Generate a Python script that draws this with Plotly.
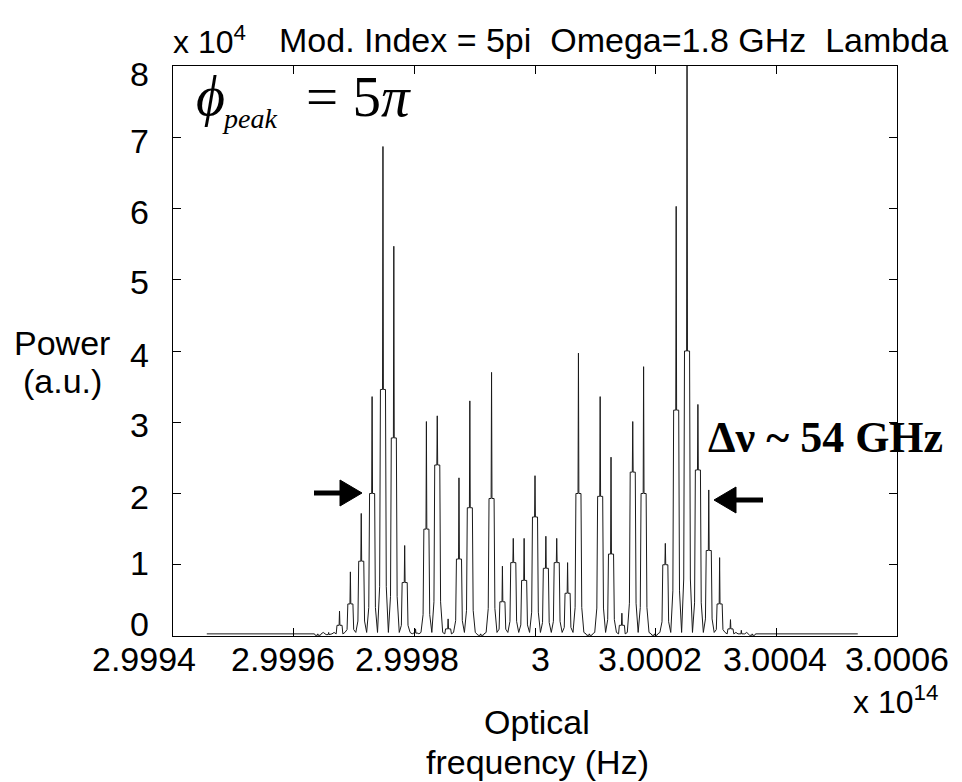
import plotly.graph_objects as go

# ---------------- data ----------------
CARRIER_HZ = 3.0e14          # centre optical frequency
SPACING_GHZ = 1.8            # modulation frequency (line spacing)
ORDERS = list(range(-20, 21))
# peak power of each spectral line (units of 1e4, a.u.)
PEAK_POWER = [0.03, 0.05, 0.35, 0.90, 1.72, 3.36, 6.87, 5.47, 1.27, 0.10,
              3.01, 3.09, 0.24, 2.22, 3.30, 0.03, 3.70, 0.98, 1.37, 1.37,
              2.25, 1.40, 1.37, 1.03, 3.97, 0.03, 3.36, 2.51, 0.32, 3.01,
              3.78, 0.03, 1.30, 6.03, 8.60, 3.25, 2.05, 1.10, 0.23, 0.08,
              0.03]
# power of the broad base ("shoulder") of each line (units of 1e4)
SHOULDER_POWER = [0.01, 0.02, 0.15, 0.45, 1.05, 2.00, 3.46, 2.78, 0.75, 0.04,
                  1.50, 2.40, 0.10, 1.08, 1.80, 0.01, 1.93, 0.48, 1.03, 0.78,
                  1.67, 0.95, 1.03, 0.60, 2.00, 0.01, 1.96, 1.15, 0.15, 2.30,
                  2.00, 0.01, 1.00, 3.17, 4.00, 2.33, 1.20, 0.45, 0.10, 0.03,
                  0.01]
VALLEY_POWER = 0.05          # floor between neighbouring lines
BASELINE_POWER = 0.03        # floor outside the comb
DATA_START_GHZ = -54.4       # span of the computed spectrum
DATA_END_GHZ = 53.5
# sampled line profile: offset from line centre (GHz) and which level it takes
PROFILE_OFFSET_GHZ = [-0.90, -0.55, -0.42, -0.07, 0.0, 0.07, 0.42, 0.55]
PROFILE_LEVEL = ["valley", "foot", "shoulder", "shoulder", "peak",
                 "shoulder", "shoulder", "foot"]
FOOT_FRACTION = 0.2

X_TICKS = [2.9994, 2.9996, 2.9998, 3.0, 3.0002, 3.0004, 3.0006]
X_TICK_TEXT = ["2.9994", "2.9996", "2.9998", "3", "3.0002", "3.0004", "3.0006"]
Y_TICKS = [0, 1, 2, 3, 4, 5, 6, 7, 8]
Y_TICK_TEXT = ["0", "1", "2", "3", "4", "5", "6", "7", "8"]

# ---------------- build the spectrum trace ----------------
def to_axis(off_ghz):
    return (CARRIER_HZ + off_ghz * 1e9) / 1e14

xs = [to_axis(DATA_START_GHZ)]
ys = [BASELINE_POWER]
for i, (n, pk, sh) in enumerate(zip(ORDERS, PEAK_POWER, SHOULDER_POWER)):
    c = n * SPACING_GHZ
    for off, lev in zip(PROFILE_OFFSET_GHZ, PROFILE_LEVEL):
        if lev == "valley":
            v = BASELINE_POWER if i == 0 else VALLEY_POWER
        elif lev == "foot":
            v = max(sh * FOOT_FRACTION, BASELINE_POWER)
        elif lev == "shoulder":
            v = sh
        else:
            v = pk
        xs.append(to_axis(c + off))
        ys.append(v)
xs.append(to_axis(ORDERS[-1] * SPACING_GHZ + 0.9))
ys.append(BASELINE_POWER)
xs.append(to_axis(DATA_END_GHZ))
ys.append(BASELINE_POWER)

fig = go.Figure()
fig.add_trace(go.Scatter(x=xs, y=ys, mode="lines",
                         line=dict(color="#1a1a1a", width=1),
                         hoverinfo="skip", showlegend=False))

# ---------------- layout ----------------
W, H = 962, 782
L, R, T, B = 173, 65, 66, 146
PW, PH = W - L - R, H - T - B

def P(px, py):
    return (px - L) / PW, (H - B - py) / PH

SANS = "Liberation Sans, Arial, sans-serif"
SERIF = "Liberation Serif, Times New Roman, DejaVu Serif, serif"

axis_common = dict(showgrid=False, zeroline=False, ticks="inside", ticklen=8,
                   tickcolor="black", linecolor="black", linewidth=1,
                   mirror="allticks", showline=True, showticklabels=False)
fig.update_layout(
    width=W, height=H,
    margin=dict(l=L, r=R, t=T, b=B, autoexpand=False),
    paper_bgcolor="white", plot_bgcolor="white",
    xaxis=dict(range=[2.9994, 3.0006], tickvals=X_TICKS, **axis_common),
    yaxis=dict(range=[0, 8], tickvals=Y_TICKS, **axis_common),
)

ann = []
def text(px, py, s, size, family=SANS, xanchor="center", yanchor="middle"):
    x, y = P(px, py)
    ann.append(dict(x=x, y=y, xref="paper", yref="paper", text=s,
                    showarrow=False, xanchor=xanchor, yanchor=yanchor,
                    font=dict(family=family, size=size, color="black")))

# tick labels, placed where the reference figure prints them
X_LABEL_PX = [144, 283, 407, 540, 650, 775, 897]
for px, lab in zip(X_LABEL_PX, X_TICK_TEXT):
    text(px, 659, lab, 34)
Y_LABEL_PY = [624, 563, 497, 425, 355, 282, 212, 141, 74]
for py, lab in zip(Y_LABEL_PY, Y_TICK_TEXT):
    text(151, py, lab, 34, xanchor="right")

# title line (MATLAB exponent + title)
text(171, 40, "x 10<sup>4</sup>", 32, xanchor="left")
text(277, 40, "Mod. Index = 5pi\u00a0\u00a0Omega=1.8 GHz\u00a0\u00a0Lambda", 34,
     xanchor="left")
# axis titles
text(62, 343, "Power", 34)
text(62, 381, "(a.u.)", 34)
text(537, 722, "Optical", 34)
text(537, 762, "frequency (Hz)", 34)
text(851, 700, "x 10<sup>14</sup>", 32, xanchor="left")
# phi_peak = 5 pi
text(210, 96, "<i>\u03d5</i>", 56, family=SERIF)
text(249, 119, "<i>peak</i>", 28, family=SERIF)
text(304, 96, "= 5<i>\u03c0</i>", 57, family=SERIF, xanchor="left")
# delta nu
text(706, 437, "<b>\u0394\u03bd ~ 54 GHz</b>", 44, family=SERIF, xanchor="left")
fig.update_layout(annotations=ann)

# arrows (shaft + filled head), in paper coordinates
shapes = []
def arrow(tail_px, head_px, y_px, shaft_w=5, head_len=22, head_half=13):
    d = 1 if head_px > tail_px else -1
    base = head_px - d * head_len
    x0, y0 = P(tail_px, y_px)
    x1, _ = P(base, y_px)
    shapes.append(dict(type="line", xref="paper", yref="paper", x0=x0, y0=y0,
                       x1=x1, y1=y0, line=dict(color="black", width=shaft_w)))
    hx, hy = P(head_px, y_px)
    bx, by_top = P(base, y_px - head_half)
    _, by_bot = P(base, y_px + head_half)
    shapes.append(dict(type="path", xref="paper", yref="paper",
                       path=f"M {bx} {by_top} L {hx} {hy} L {bx} {by_bot} Z",
                       fillcolor="black", line=dict(color="black", width=1)))

arrow(314, 362, 493)
arrow(763, 714, 500)
fig.update_layout(shapes=shapes)

fig.write_html("out.html", config={"displayModeBar": False},
               post_script="document.body.style.margin='0px';")
